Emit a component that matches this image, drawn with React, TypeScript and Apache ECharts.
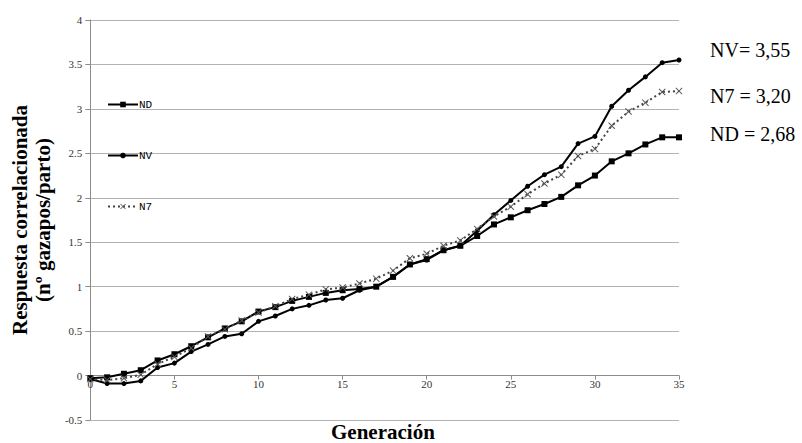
import React, { useEffect, useRef } from "react";
import * as echarts from "echarts";

const generations = Array.from({ length: 36 }, (_, i) => i);
const ndValues = [-0.03, -0.02, 0.02, 0.06, 0.17, 0.24, 0.33, 0.43, 0.53, 0.61, 0.72, 0.77, 0.84, 0.885, 0.93, 0.96, 0.975, 1.0, 1.11, 1.25, 1.31, 1.41, 1.46, 1.57, 1.70, 1.78, 1.86, 1.93, 2.01, 2.14, 2.25, 2.41, 2.50, 2.60, 2.68, 2.68];
const nvValues = [-0.04, -0.09, -0.09, -0.06, 0.09, 0.14, 0.27, 0.35, 0.44, 0.47, 0.61, 0.67, 0.75, 0.79, 0.85, 0.87, 0.96, 1.0, 1.11, 1.25, 1.30, 1.41, 1.46, 1.63, 1.81, 1.97, 2.13, 2.26, 2.35, 2.61, 2.69, 3.03, 3.21, 3.36, 3.52, 3.55];
const n7Values = [-0.04, -0.05, -0.03, 0.01, 0.13, 0.21, 0.31, 0.44, 0.52, 0.62, 0.71, 0.78, 0.86, 0.91, 0.97, 0.99, 1.035, 1.09, 1.18, 1.32, 1.37, 1.46, 1.52, 1.65, 1.79, 1.90, 2.04, 2.16, 2.26, 2.47, 2.55, 2.81, 2.97, 3.07, 3.19, 3.20];
const seriesNames = ["ND", "NV", "N7"];
const endLabels = ["NV= 3,55", "N7 = 3,20", "ND = 2,68"];
const yTitle = "Respuesta correlacionada\n(nº gazapos/parto)";
const xTitle = "Generación";

const xMark = "path://M0,1L1,0L5,4L9,0L10,1L6,5L10,9L9,10L5,6L1,10L0,9L4,5Z";

export default function App() {
  const ref = useRef<HTMLDivElement>(null);
  useEffect(() => {
    if (!ref.current) return;
    const chart = echarts.init(ref.current, null, { renderer: "svg" });
    const pair = (vals: number[]) => generations.map((g, i) => [g, vals[i]]);
    chart.setOption({
      animation: false,
      backgroundColor: "#ffffff",
      grid: { left: 90, right: 123, top: 20, bottom: 23, containLabel: false },
      legend: {
        orient: "vertical",
        left: 102,
        top: 94,
        itemGap: 40,
        itemWidth: 30,
        itemHeight: 7,
        data: seriesNames,
        textStyle: { fontFamily: "Liberation Mono", fontSize: 11, color: "#000", padding: [0, 0, 0, -4] },
      },
      xAxis: {
        type: "value",
        min: 0,
        max: 35,
        interval: 5,
        offset: -44.4,
        axisLine: { onZero: false, lineStyle: { color: "#8c8c8c" } },
        axisTick: { show: true, length: 4, lineStyle: { color: "#8c8c8c" } },
        axisLabel: { fontFamily: "Liberation Serif", fontSize: 11, color: "#333", margin: 3 },
        splitLine: { show: false },
      },
      yAxis: {
        type: "value",
        min: -0.5,
        max: 4,
        interval: 0.5,
        name: yTitle,
        nameLocation: "middle",
        nameGap: 31,
        nameTextStyle: { fontFamily: "Liberation Serif", fontSize: 21, fontWeight: "bold", color: "#000", lineHeight: 23 },
        axisLine: { show: true, lineStyle: { color: "#8c8c8c" } },
        axisTick: { show: true, length: 5, lineStyle: { color: "#8c8c8c" } },
        axisLabel: { fontFamily: "Liberation Serif", fontSize: 11, color: "#333", margin: 8 },
        splitLine: { show: true, lineStyle: { color: "#b3b3b3", width: 1 } },
      },
      series: [
        {
          name: seriesNames[0],
          type: "line",
          data: pair(ndValues),
          symbol: "rect",
          symbolSize: 6,
          lineStyle: { color: "#000", width: 2 },
          itemStyle: { color: "#000" },
        },
        {
          name: seriesNames[1],
          type: "line",
          data: pair(nvValues),
          symbol: "circle",
          symbolSize: 5,
          lineStyle: { color: "#000", width: 2 },
          itemStyle: { color: "#000" },
        },
        {
          name: seriesNames[2],
          type: "line",
          data: pair(n7Values),
          symbol: xMark,
          symbolSize: 7,
          lineStyle: { color: "#444", width: 2, type: [2, 3] },
          itemStyle: { color: "#555" },
        },
      ],
      graphic: [
        { type: "text", left: 331, top: 421, style: { text: xTitle, fontFamily: "Liberation Serif", fontSize: 21, fontWeight: "bold", fill: "#000" } },
        { type: "text", left: 710, top: 40, style: { text: endLabels[0], fontFamily: "Liberation Serif", fontSize: 20, fill: "#000" } },
        { type: "text", left: 710, top: 86, style: { text: endLabels[1], fontFamily: "Liberation Serif", fontSize: 20, fill: "#000" } },
        { type: "text", left: 710, top: 124, style: { text: endLabels[2], fontFamily: "Liberation Serif", fontSize: 20, fill: "#000" } },
      ],
    });
    return () => chart.dispose();
  }, []);
  return <div ref={ref} style={{ width: 802, height: 443, position: "absolute", left: 0, top: 0 }} />;
}
